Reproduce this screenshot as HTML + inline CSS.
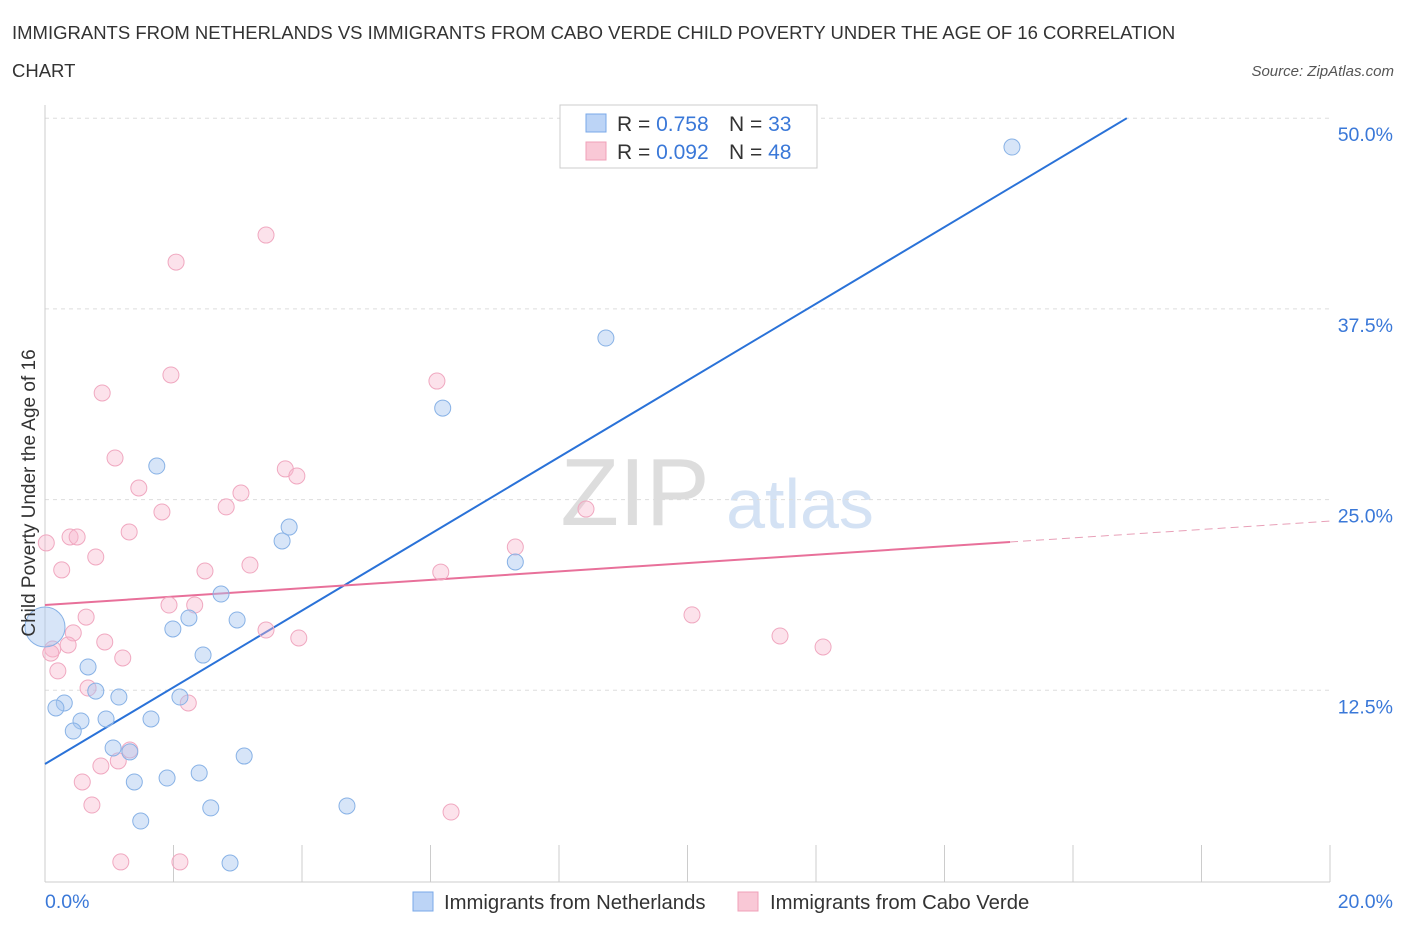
<!DOCTYPE html>
<html><head><meta charset="utf-8"><style>
body{margin:0;background:#fff;font-family:"Liberation Sans",sans-serif;}
svg text{font-family:"Liberation Sans",sans-serif;}
</style></head><body>
<svg id="c" width="1406" height="930" xmlns="http://www.w3.org/2000/svg">
<text x="12" y="39" font-size="18.5" fill="#333">IMMIGRANTS FROM NETHERLANDS VS IMMIGRANTS FROM CABO VERDE CHILD POVERTY UNDER THE AGE OF 16 CORRELATION</text>
<text x="12" y="77" font-size="18.5" fill="#333">CHART</text>
<text x="1394" y="76" font-size="15" fill="#555" font-style="italic" text-anchor="end">Source: ZipAtlas.com</text>
<text x="635" y="525" font-size="96" fill="#ddd" font-family="Liberation Serif" text-anchor="middle">ZIP</text>
<text x="800" y="528" font-size="70" fill="#d4e2f4" text-anchor="middle">atlas</text>
<g id="grid"></g>
<line x1="45" y1="105" x2="45" y2="882" stroke="#ccc"/>
<line x1="45" y1="882" x2="1330" y2="882" stroke="#ccc"/>
<g id="xt"></g>
<g id="lines"></g>
<g id="pts"></g>
<text x="28" y="500" font-size="19" fill="#333" text-anchor="middle" transform="rotate(-90 28 493)">Child Poverty Under the Age of 16</text>
<text x="45" y="908" font-size="19.5" fill="#3a78d8">0.0%</text>
<text x="1393" y="908" font-size="19.5" fill="#3a78d8" text-anchor="end">20.0%</text>
<g>
<rect x="560" y="105" width="257" height="63" fill="#fff" stroke="#ccc"/>
<rect x="586" y="114" width="20" height="18" fill="#bcd4f6" stroke="#7aa8e8"/>
<rect x="586" y="142" width="20" height="18" fill="#f9c8d6" stroke="#f0a0b8"/>
<text x="617" y="131" font-size="21" fill="#333">R = <tspan fill="#3a78d8">0.758</tspan></text>
<text x="729" y="131" font-size="21" fill="#333">N = <tspan fill="#3a78d8">33</tspan></text>
<text x="617" y="159" font-size="21" fill="#333">R = <tspan fill="#3a78d8">0.092</tspan></text>
<text x="729" y="159" font-size="21" fill="#333">N = <tspan fill="#3a78d8">48</tspan></text>
</g>
<g>
<rect x="413" y="892" width="20" height="19" fill="#bcd4f6" stroke="#7aa8e8"/>
<text x="444" y="909" font-size="20.3" fill="#333">Immigrants from Netherlands</text>
<rect x="738" y="892" width="20" height="19" fill="#f9c8d6" stroke="#f0a0b8"/>
<text x="770" y="909" font-size="20.3" fill="#333">Immigrants from Cabo Verde</text>
</g>
</svg>
<script>
const yTicks=[12.5,25,37.5,50];
const yTickLabels=["12.5%","25.0%","37.5%","50.0%"];
const xTicks=[0,2,4,6,8,10,12,14,16,18,20];
const blueX=[15.05,8.73,6.19,1.74,3.80,3.69,7.32,2.74,2.99,2.24,1.99,2.46,0.67,0.79,1.15,2.10,0.30,0.17,0.56,0.95,1.65,0.44,1.06,1.32,3.10,2.40,1.90,1.39,2.58,4.70,1.49,2.88,0.0];
const blueY=[48.11,35.59,31.00,27.20,23.20,22.29,20.91,18.81,17.11,17.24,16.52,14.81,14.03,12.45,12.06,12.06,11.67,11.34,10.49,10.62,10.62,9.83,8.72,8.46,8.19,7.08,6.75,6.49,4.79,4.92,3.93,1.18,16.65];
const blueSize=[8,8,8,8,8,8,8,8,8,8,8,8,8,8,8,8,8,8,8,8,8,8,8,8,8,8,8,8,8,8,8,8,20];
const pinkX=[3.44,2.04,1.96,6.10,0.89,1.09,3.74,3.92,1.46,3.05,1.82,2.82,8.42,1.31,0.39,0.50,0.02,7.32,0.79,3.19,0.26,2.49,6.16,1.93,2.33,0.64,10.07,0.44,11.44,3.44,3.95,0.93,0.36,0.12,0.09,12.11,1.21,0.20,0.67,2.23,1.32,1.14,0.87,0.58,0.73,6.32,1.18,2.10];
const pinkY=[42.34,40.57,33.17,32.77,31.99,27.73,27.01,26.55,25.76,25.43,24.19,24.52,24.38,22.88,22.55,22.55,22.16,21.89,21.24,20.71,20.39,20.32,20.25,18.09,18.09,17.30,17.44,16.26,16.06,16.45,15.93,15.67,15.47,15.21,14.94,15.34,14.62,13.77,12.65,11.67,8.59,7.87,7.54,6.49,4.98,4.52,1.25,1.25];
const blueFit=[7.67,2.514];
const pinkFit=[18.09,0.275];
const sx=v=>45+v*64.25, sy=v=>881-v*15.256;
const NS="http://www.w3.org/2000/svg";
function mk(t,a,p){const e=document.createElementNS(NS,t);for(const k in a)e.setAttribute(k,a[k]);p.appendChild(e);return e;}
const grid=document.getElementById('grid');
yTicks.forEach((v,i)=>{
 const l=mk('line',{x1:45,x2:1330,y1:sy(v),y2:sy(v),stroke:'#ddd','stroke-dasharray':'4,4'},grid);
 
 
 const t=mk('text',{x:1393,y:sy(v)+23,'font-size':19.5,fill:'#3a78d8','text-anchor':'end'},grid);
 t.textContent=yTickLabels[i];
 
 
});
const xt=document.getElementById('xt');
xTicks.forEach(v=>{
 const l=mk('line',{x1:sx(v),x2:sx(v),y1:845,y2:882,stroke:'#ccc'},xt);
 
 
});
const lines=document.getElementById('lines');
const bx2=(50-blueFit[0])/blueFit[1];
let b=mk('line',{x1:sx(0),y1:sy(blueFit[0]),x2:sx(bx2),y2:sy(50),stroke:'#2a72d8','stroke-width':2},lines);


let p=mk('line',{x1:sx(0),y1:sy(pinkFit[0]),x2:sx(15.02),y2:sy(pinkFit[0]+pinkFit[1]*15.02),stroke:'#e8709a','stroke-width':2},lines);


let pd=mk('line',{x1:sx(15.02),y1:sy(pinkFit[0]+pinkFit[1]*15.02),x2:sx(20),y2:sy(pinkFit[0]+pinkFit[1]*20),stroke:'#e8a0b8','stroke-width':1,'stroke-dasharray':'8,5'},lines);


const pts=document.getElementById('pts');
pinkX.forEach((x,i)=>{
 const c=mk('circle',{cx:sx(x),cy:sy(pinkY[i]),r:8,fill:'rgba(248,182,204,0.4)',stroke:'#f0a8c0','stroke-width':1},pts);
 
 
});
blueX.forEach((x,i)=>{
 const c=mk('circle',{cx:sx(x),cy:sy(blueY[i]),r:blueSize[i],fill:'rgba(166,198,240,0.45)',stroke:'#88b2e6','stroke-width':1},pts);
 
 
});
</script>
</body></html>
